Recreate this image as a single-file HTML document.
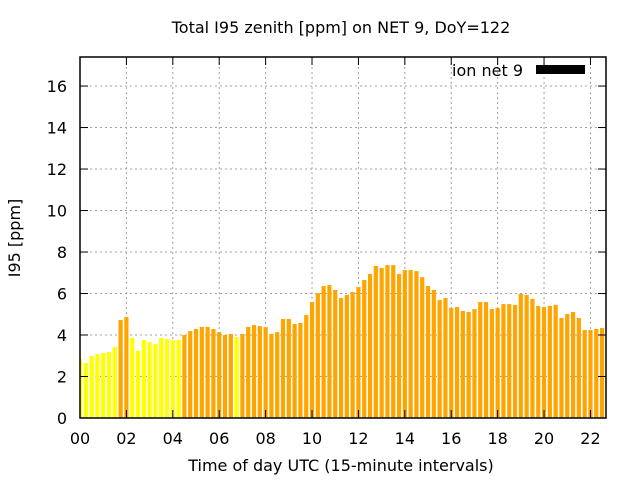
<!DOCTYPE html>
<html><head><meta charset="utf-8"><style>
body{margin:0;background:#fff}
svg text{font-family:"DejaVu Sans","Liberation Sans",sans-serif;font-size:16px;fill:#000}
</style></head><body>
<svg id="chart" width="640" height="480" xmlns="http://www.w3.org/2000/svg">
<rect width="640" height="480" fill="#fff"/>
<text x="341" y="33" text-anchor="middle">Total I95 zenith [ppm] on NET 9, DoY=122</text>
<text x="341" y="471" text-anchor="middle">Time of day UTC (15-minute intervals)</text>
<text transform="translate(20,238) rotate(-90)" text-anchor="middle">I95 [ppm]</text>
<g id="grid"></g>
<g id="bars"></g>
<g id="axes"></g>
<g>
<text x="523" y="76" text-anchor="end">ion net 9</text>
<rect x="536" y="65" width="49" height="9" fill="#000"/>
</g>
</svg>
<script>
const values=[2.83,2.65,2.99,3.08,3.13,3.18,3.42,4.72,4.87,3.86,3.23,3.76,3.66,3.56,3.86,3.81,3.76,3.76,4.0,4.19,4.29,4.39,4.39,4.29,4.14,4.0,4.05,3.9,4.05,4.39,4.48,4.43,4.38,4.05,4.14,4.77,4.77,4.53,4.58,4.96,5.59,6.02,6.36,6.41,6.17,5.78,5.93,6.07,6.31,6.65,6.94,7.33,7.23,7.37,7.37,6.94,7.13,7.13,7.08,6.79,6.36,6.17,5.69,5.78,5.30,5.35,5.16,5.11,5.25,5.59,5.59,5.25,5.30,5.49,5.49,5.45,5.98,5.93,5.74,5.40,5.35,5.40,5.45,4.82,5.01,5.11,4.82,4.24,4.24,4.29,4.34,4.24];
const yellowIdx=[0,1,2,3,4,5,6,9,10,11,12,13,14,15,16,17,27];
const yTicks=[0,2,4,6,8,10,12,14,16];
const xTicks=["00","02","04","06","08","10","12","14","16","18","20","22"];
const L=80,R=606,T=57,B=418,XMAX=22.67,YMAX=17.4;
const xs=h=>L+h/XMAX*(R-L);
const ys=v=>B-v/YMAX*(B-T);
const NS="http://www.w3.org/2000/svg";
function mk(tag,attrs,parent){const e=document.createElementNS(NS,tag);for(const k in attrs)e.setAttribute(k,attrs[k]);parent.appendChild(e);return e;}
const grid=document.getElementById('grid'),bars=document.getElementById('bars'),axes=document.getElementById('axes');
mk('clipPath',{id:'clip'},bars);
mk('rect',{x:L,y:T,width:R-L,height:B-T},bars.firstChild);
yTicks.forEach(v=>{const y=ys(v);
 if(v>0){const g=mk('line',{x1:L,x2:R,y1:y,y2:y,stroke:'#a0a0a0','stroke-dasharray':'2,3'},grid);
 }
 mk('line',{x1:L,x2:L+8,y1:y,y2:y,stroke:'#000'},axes);mk('line',{x1:R-8,x2:R,y1:y,y2:y,stroke:'#000'},axes);
 const t=mk('text',{x:L-13,y:y+6,'text-anchor':'end'},axes);t.textContent=v;
 
});
xTicks.forEach((lab,i)=>{const x=xs(i*2);
 if(i>0){const g=mk('line',{x1:x,x2:x,y1:T,y2:B,stroke:'#a0a0a0','stroke-dasharray':'2,3'},grid);
 }
 mk('line',{x1:x,x2:x,y1:B,y2:B-8,stroke:'#000'},axes);mk('line',{x1:x,x2:x,y1:T,y2:T+8,stroke:'#000'},axes);
 const t=mk('text',{x:x,y:444,'text-anchor':'middle'},axes);t.textContent=lab;
 
});
const g2=mk('g',{'clip-path':'url(#clip)'},bars);
values.forEach((v,i)=>{const cx=xs(i*0.25);
 const r=mk('rect',{x:cx-2.1,y:ys(v),width:4.2,height:B-ys(v),fill:yellowIdx.includes(i)?'#ffff00':'#ffa500'},g2);
 
 
});
const fr=mk('rect',{x:L,y:T,width:R-L,height:B-T,fill:'none',stroke:'#000','stroke-width':1.5},axes);


</script>
</body></html>
